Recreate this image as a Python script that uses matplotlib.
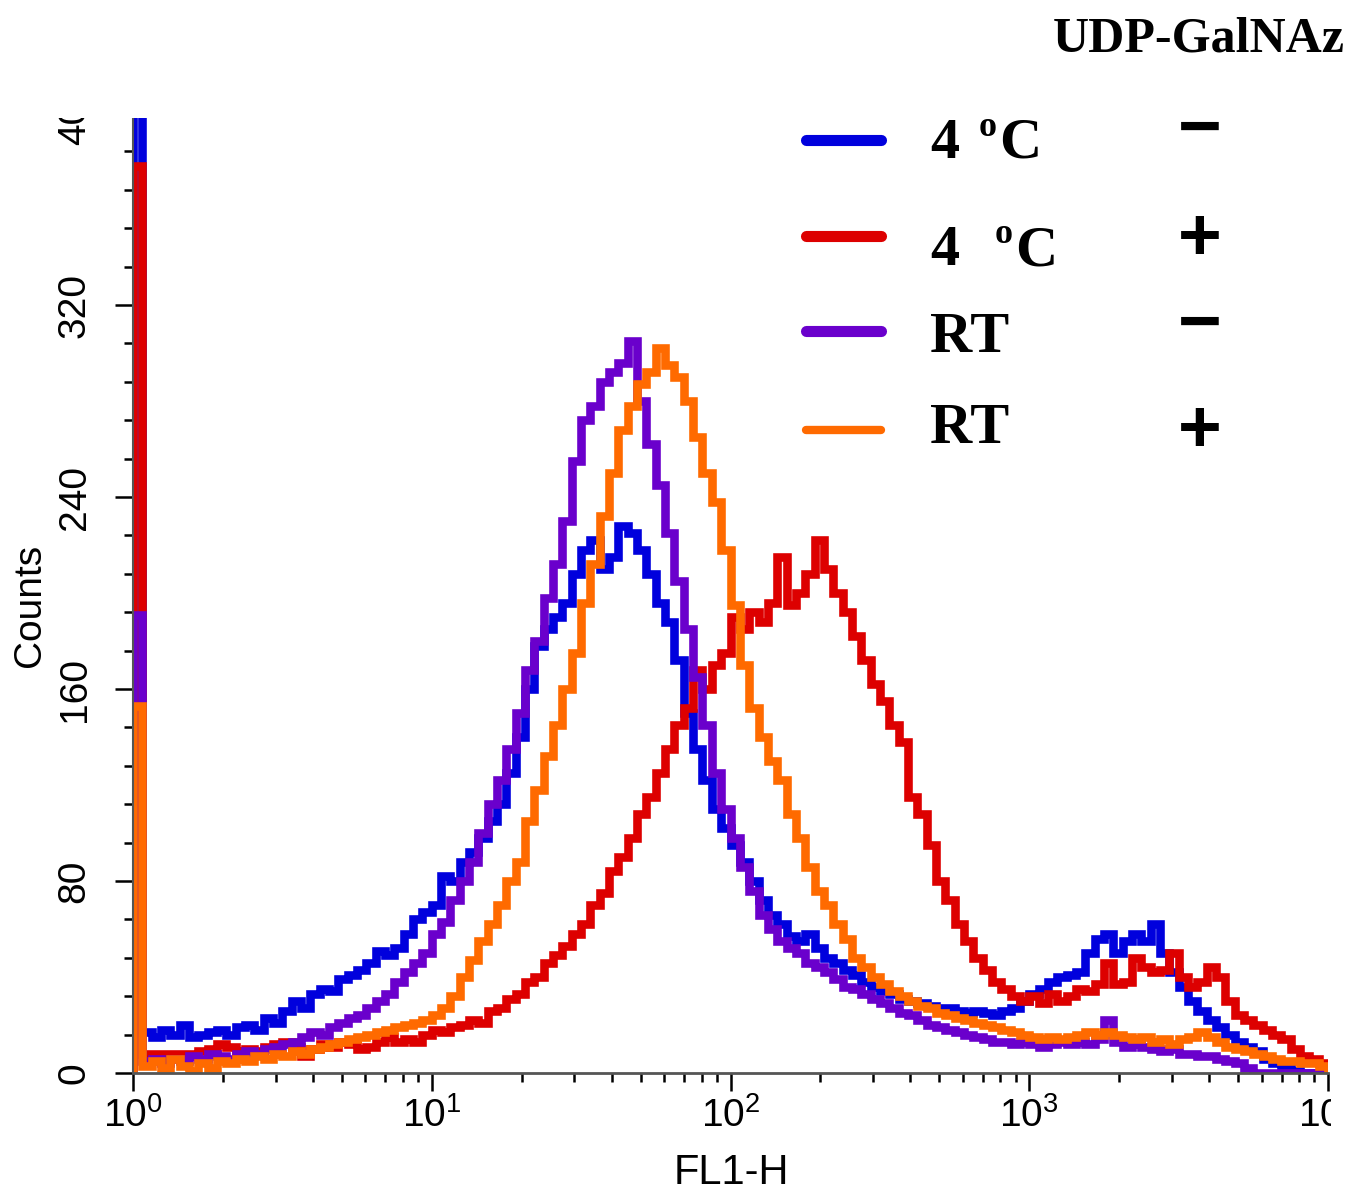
import numpy as np
import matplotlib
matplotlib.use("Agg")
import matplotlib.pyplot as plt
from matplotlib.lines import Line2D
from matplotlib.patches import Rectangle
from matplotlib.ticker import FixedLocator, NullFormatter, LogLocator

plt.rcParams['font.family'] = ['Liberation Sans', 'DejaVu Sans']
plt.rcParams['mathtext.fontset'] = 'custom'
plt.rcParams['mathtext.rm'] = 'Liberation Sans'

# ---------------- data (counts per channel, 32 channels per decade, 10^0..10^4)
channels_per_decade = 32
n_decades = 4

blue_4C_minus = [430, 17, 15, 18, 16, 20, 15, 16, 17, 18, 16,
                 19, 20, 18, 23, 21, 26, 30, 27, 33, 35,
                 34, 39, 41, 43, 46, 51, 49, 52, 58, 64,
                 67, 70, 82, 80, 88, 92, 98, 105, 112, 125,
                 140, 160, 178, 185, 190, 196, 208, 218, 222, 210,
                 215, 228, 225, 218, 208, 196, 188, 172, 150, 135,
                 122, 110, 102, 95, 88, 80, 72, 66, 62, 57,
                 55, 58, 52, 48, 46, 43, 41, 38, 36, 34,
                 33, 31, 30, 29, 28, 27, 27, 26, 25, 26,
                 25, 24, 26, 27, 30, 33, 35, 38, 40, 41,
                 42, 50, 56, 58, 50, 55, 58, 55, 62, 50,
                 42, 36, 30, 26, 22, 19, 16, 13, 11, 9,
                 6, 4, 2, 1, 0, 0, 0]

red_4C_plus = [378, 8, 8, 8, 8, 8, 8, 9, 10, 12, 11,
               9, 10, 9, 11, 12, 13, 11, 7, 10, 12,
               11, 13, 12, 10, 11, 13, 15, 13, 14, 13,
               16, 18, 17, 19, 20, 22, 21, 26, 27, 31,
               33, 38, 40, 46, 49, 53, 58, 62, 70, 75,
               84, 90, 98, 108, 115, 125, 135, 145, 152, 168,
               160, 170, 175, 190, 185, 192, 188, 196, 215, 195,
               200, 208, 222, 210, 200, 192, 182, 172, 162, 155,
               145, 138, 115, 108, 95, 80, 72, 62, 55, 48,
               43, 38, 35, 32, 30, 32, 29, 33, 30, 32,
               35, 34, 37, 46, 37, 38, 48, 44, 42, 43,
               50, 40, 36, 38, 44, 40, 30, 24, 22, 20,
               18, 16, 14, 10, 7, 6, 4]

purple_RT_minus = [191, 5, 6, 4, 6, 5, 7, 6, 8, 7, 6,
                   8, 9, 8, 10, 11, 12, 13, 15, 17, 16,
                   19, 21, 23, 24, 27, 30, 33, 38, 42, 46,
                   50, 58, 63, 72, 80, 88, 100, 112, 122, 135,
                   150, 168, 180, 198, 212, 230, 255, 272, 278, 288,
                   292, 296, 305, 280, 262, 245, 225, 205, 185, 165,
                   145, 125, 110, 98, 86, 76, 66, 60, 55, 52,
                   50, 46, 44, 42, 39, 36, 35, 33, 31, 29,
                   27, 25, 24, 22, 20, 19, 18, 17, 16, 15,
                   14, 13, 13, 12, 13, 12, 11, 12, 13, 12,
                   13, 12, 14, 22, 13, 11, 12, 11, 10, 9,
                   10, 8, 8, 7, 7, 6, 5, 4, 2, 0,
                   0, 0, 0, 0, 0, 0, 0]

orange_RT_plus = [153, 3, 5, 2, 6, 3, 1, 4, 2, 5, 4,
                  6, 5, 7, 6, 8, 7, 9, 8, 10, 11,
                  12, 13, 14, 15, 16, 17, 18, 19, 20, 21,
                  22, 24, 27, 32, 40, 47, 55, 62, 70, 80,
                  88, 105, 118, 132, 145, 160, 175, 196, 212, 232,
                  250, 268, 278, 287, 292, 302, 295, 290, 280, 265,
                  250, 238, 218, 195, 170, 152, 140, 130, 122, 108,
                  98, 86, 76, 70, 62, 56, 48, 44, 40, 37,
                  34, 32, 30, 28, 27, 25, 24, 23, 22, 21,
                  20, 19, 18, 17, 16, 15, 14, 15, 14, 15,
                  16, 17, 16, 17, 16, 15, 14, 15, 13, 14,
                  12, 14, 15, 17, 15, 13, 11, 10, 9, 8,
                  7, 6, 5, 5, 4, 4, 3]

series_colors = ["#0000DD", "#DD0000", "#6A00CC", "#FF6A00"]

y_ticks = [0, 80, 160, 240, 320, 400]
x_ticks = [1, 10, 100, 1000, 10000]
x_tick_labels = [r"$\mathregular{10^{%d}}$" % i for i in range(5)]

# ---------------- figure
W, H = 1350, 1194
fig = plt.figure(figsize=(W / 100, H / 100), dpi=100)

def fx(px):
    return px / W

def fy(py):
    return 1 - py / H

ax_left, ax_right, ax_top, ax_bottom = 133, 1328, 113, 1073
ax = fig.add_axes([fx(ax_left), fy(ax_bottom), fx(ax_right - ax_left), (ax_bottom - ax_top) / H])

edges = 10 ** (np.arange(channels_per_decade * n_decades + 1) / channels_per_decade)
for vals, col in zip([blue_4C_minus, red_4C_plus, purple_RT_minus, orange_RT_plus], series_colors):
    ax.stairs(vals, edges, baseline=0, color=col, linewidth=6.2)

ax.set_xscale('log')
ax.set_xlim(1, 10000)
ax.set_ylim(0, 400)

ax.set_xticks(x_ticks)
ax.set_xticklabels(x_tick_labels)
ax.xaxis.set_minor_locator(LogLocator(base=10, subs=np.arange(2, 10)))
ax.xaxis.set_minor_formatter(NullFormatter())

ax.set_yticks(y_ticks)
ax.set_yticklabels([str(v) for v in y_ticks])
ax.yaxis.set_minor_locator(FixedLocator(np.arange(0, 401, 16)))

ax.tick_params(axis='both', which='major', direction='out', length=13, width=1.8,
               labelsize=28, color='black')
ax.tick_params(axis='both', which='minor', direction='out', length=6.5, width=1.8, color='black')
ax.tick_params(axis='x', which='major', pad=4)
ax.tick_params(axis='y', which='major', pad=16, labelrotation=90)
for lab in ax.get_yticklabels():
    lab.set_va('center')

for s in ['top', 'right']:
    ax.spines[s].set_visible(False)
ax.spines['bottom'].set_color('#555555')
ax.spines['bottom'].set_linewidth(2)
ax.spines['left'].set_color('#555555')
ax.spines['left'].set_linewidth(1.5)

fig.text(fx(30), fy(605), "Counts", rotation=90, ha='center', va='center', fontsize=28)
fig.text(fx(731), fy(1173), "FL1-H", ha='center', va='center', fontsize=30)

# cropped areas of the original screenshot
fig.add_artist(Rectangle((0, fy(118)), fx(700), 1 - fy(118), transform=fig.transFigure,
                         facecolor='white', edgecolor='none', zorder=10))
fig.add_artist(Rectangle((fx(1331), 0), 1 - fx(1331), fy(1080), transform=fig.transFigure,
                         facecolor='white', edgecolor='none', zorder=10))

# ---------------- legend-like annotation
serif_bold = dict(family=['Liberation Serif', 'DejaVu Serif'], weight='bold', color='black')
fig.text(fx(1345), fy(52), "UDP-GalNAz", ha='right', va='baseline', fontsize=36, zorder=11, **serif_bold)

leg_rows_y = [140, 236, 331, 430]
leg_lw = [8.0, 8.0, 8.0, 6.0]
for yy, col, lw in zip(leg_rows_y, series_colors, leg_lw):
    fig.add_artist(Line2D([fx(806), fx(881)], [fy(yy), fy(yy)], color=col, linewidth=lw,
                          solid_capstyle='round', zorder=11))

label_baselines = [158, 265, 352, 443]
label_texts = [("4", "C", 0), ("4", "C", 16), ("RT", None, 0), ("RT", None, 0)]
for yb, (main, unit, extra) in zip(label_baselines, label_texts):
    fig.text(fx(930), fy(yb), main, ha='left', va='baseline', fontsize=42, zorder=11, **serif_bold)
    if unit:
        fig.text(fx(979 + extra), fy(yb - 22), "o", ha='left', va='baseline', fontsize=26,
                 zorder=11, **serif_bold)
        fig.text(fx(999 + extra), fy(yb), unit, ha='left', va='baseline', fontsize=42,
                 zorder=11, **serif_bold)

signs = ["\u2212", "+", "\u2212", "+"]
sign_y = [131, 240, 326, 433]
for s, yy in zip(signs, sign_y):
    fig.text(fx(1200), fy(yy), s, ha='center', va='center', fontsize=54, zorder=11,
             family=['Liberation Sans', 'DejaVu Sans'], weight='bold', color='black')

fig.savefig("out.png", dpi=100, facecolor='white')
